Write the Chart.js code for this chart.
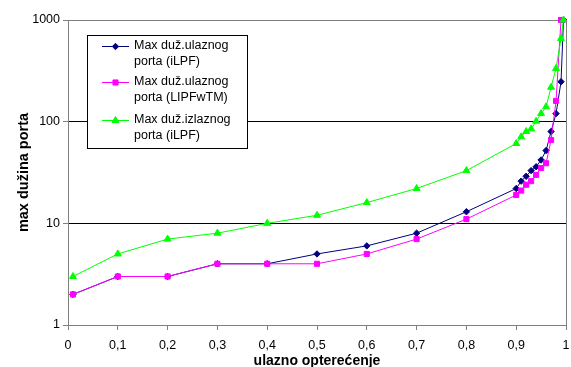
<!DOCTYPE html>
<html>
<head>
<meta charset="utf-8">
<title>max dužina porta</title>
<script src="https://cdn.jsdelivr.net/npm/chart.js@4/dist/chart.umd.min.js"></script>
<style>
  html, body { margin: 0; padding: 0; background: #fff; }
  #wrap { position: relative; width: 571px; height: 367px; }
</style>
</head>
<body>
<div id="wrap"><canvas id="chart" width="571" height="367"></canvas></div>
<script>
// Data
const load = [0.01, 0.1, 0.2, 0.3, 0.4, 0.5, 0.6, 0.7, 0.8, 0.9, 0.91, 0.92, 0.93, 0.94, 0.95, 0.96, 0.97, 0.98, 0.99, 0.995];
const inPortILPF = [2, 3, 3, 4, 4, 5, 6, 8, 13, 22, 26, 29, 33, 36, 42, 52, 80, 120, 247, 1000];
const inPortLIPFwTM = [2, 3, 3, 4, 4, 4, 5, 7, 11, 19, 21, 24, 26, 30, 35, 39, 66, 160, 1000, null];
const outPortILPF = [3, 5, 7, 8, 10, 12, 16, 22, 33, 61, 71, 80, 85, 101, 120, 140, 218, 334, 659, 1000];

const yTicks = [1, 10, 100, 1000];
const seriesNames = [
  ["Max duž.ulaznog", "porta (iLPF)"],
  ["Max duž.ulaznog", "porta (LIPFwTM)"],
  ["Max duž.izlaznog", "porta (iLPF)"],
];

const FONT = "'Liberation Sans', Arial, sans-serif";

function toPoints(values) {
  const pts = [];
  values.forEach((v, i) => {
    if (v !== null) pts.push({ x: load[i], y: v });
  });
  return pts;
}

// right frame line + legend box inside the plot
const framePlugin = {
  id: "frame",
  afterDraw(chart) {
    const { ctx, chartArea } = chart;
    ctx.save();
    ctx.strokeStyle = "#808080";
    ctx.lineWidth = 1;
    ctx.beginPath();
    ctx.moveTo(Math.round(chartArea.right) + 0.5, chartArea.top);
    ctx.lineTo(Math.round(chartArea.right) + 0.5, chartArea.bottom);
    ctx.stroke();

    // legend
    const bx = chartArea.left + 19, by = chartArea.top + 15;
    const bw = 160, bh = 113;
    ctx.fillStyle = "#fff";
    ctx.fillRect(bx, by, bw, bh);
    ctx.strokeStyle = "#000";
    ctx.strokeRect(bx + 0.5, by + 0.5, bw, bh);

    const rowY = [11, 47, 85];
    chart.data.datasets.forEach((ds, i) => {
      const y = by + rowY[i];
      ctx.strokeStyle = ds.borderColor;
      ctx.lineWidth = 1;
      ctx.beginPath();
      ctx.moveTo(bx + 15, y + 0.5);
      ctx.lineTo(bx + 42, y + 0.5);
      ctx.stroke();
      ctx.fillStyle = ds.pointBackgroundColor;
      Chart.helpers.drawPoint(ctx, {
        pointStyle: ds.pointStyle,
        radius: ds.pointRadius,
        borderWidth: 1,
      }, bx + 28.5, y + 0.5);
      ctx.fillStyle = "#000";
      ctx.font = "12.5px " + FONT;
      ctx.textBaseline = "middle";
      ctx.textAlign = "left";
      ctx.fillText(seriesNames[i][0], bx + 47, y);
      ctx.fillText(seriesNames[i][1], bx + 47, y + 16);
    });
    ctx.restore();
  },
};

new Chart(document.getElementById("chart"), {
  type: "line",
  data: {
    datasets: [
      {
        label: seriesNames[0].join(" "),
        data: toPoints(inPortILPF),
        borderColor: "#000080",
        backgroundColor: "#000080",
        pointBackgroundColor: "#000080",
        pointBorderColor: "#000080",
        pointStyle: "rectRot",
        pointRadius: 3.2,
        borderWidth: 1,
        order: 3,
      },
      {
        label: seriesNames[1].join(" "),
        data: toPoints(inPortLIPFwTM),
        borderColor: "#ff00ff",
        backgroundColor: "#ff00ff",
        pointBackgroundColor: "#ff00ff",
        pointBorderColor: "#ff00ff",
        pointStyle: "rect",
        pointRadius: 3.6,
        borderWidth: 1,
        order: 2,
      },
      {
        label: seriesNames[2].join(" "),
        data: toPoints(outPortILPF),
        borderColor: "#00ff00",
        backgroundColor: "#00ff00",
        pointBackgroundColor: "#00ff00",
        pointBorderColor: "#00ff00",
        pointStyle: "triangle",
        pointRadius: 4,
        borderWidth: 1,
        order: 1,
      },
    ],
  },
  options: {
    responsive: false,
    animation: false,
    clip: false,
    layout: { padding: { top: 20, right: 3, left: 0, bottom: 0 } },
    plugins: {
      legend: { display: false },
      tooltip: { enabled: false },
    },
    scales: {
      x: {
        type: "linear",
        min: 0,
        max: 1,
        afterFit: (scale) => {
          scale.height = 42;
          scale.paddingLeft = 0;
          scale.paddingRight = 0;
        },
        ticks: {
          stepSize: 0.1,
          padding: 8,
          color: "#000",
          font: { family: FONT, size: 12.5 },
          maxRotation: 0,
          callback: (v) => String(Math.round(v * 10) / 10).replace(".", ","),
        },
        grid: {
          drawOnChartArea: false,
          drawTicks: true,
          tickLength: 5,
          tickColor: "#808080",
        },
        border: { color: "#808080", width: 1 },
        title: {
          display: true,
          text: "ulazno opterećenje",
          color: "#000",
          font: { family: FONT, size: 14, weight: "bold" },
          padding: { top: 0, bottom: -3 },
        },
      },
      y: {
        type: "logarithmic",
        min: 1,
        max: 1000,
        afterFit: (scale) => {
          scale.width = 68;
          scale.paddingTop = 0;
          scale.paddingBottom = 0;
        },
        afterBuildTicks: (scale) => {
          scale.ticks = yTicks.map((v) => ({ value: v }));
        },
        ticks: {
          padding: 3,
          color: "#000",
          font: { family: FONT, size: 12.5 },
          callback: (v) => String(v),
        },
        grid: {
          tickLength: 5,
          tickColor: "#808080",
          color: (c) => {
            const v = c.tick && c.tick.value;
            if (v === 1) return "rgba(0,0,0,0)";
            if (v === 1000) return "#808080";
            return "#000";
          },
        },
        border: { color: "#808080", width: 1 },
        title: {
          display: true,
          text: "max dužina porta",
          color: "#000",
          font: { family: FONT, size: 14.5, weight: "bold" },
          padding: { top: 15, bottom: 0 },
        },
      },
    },
  },
  plugins: [framePlugin],
});
</script>
</body>
</html>
